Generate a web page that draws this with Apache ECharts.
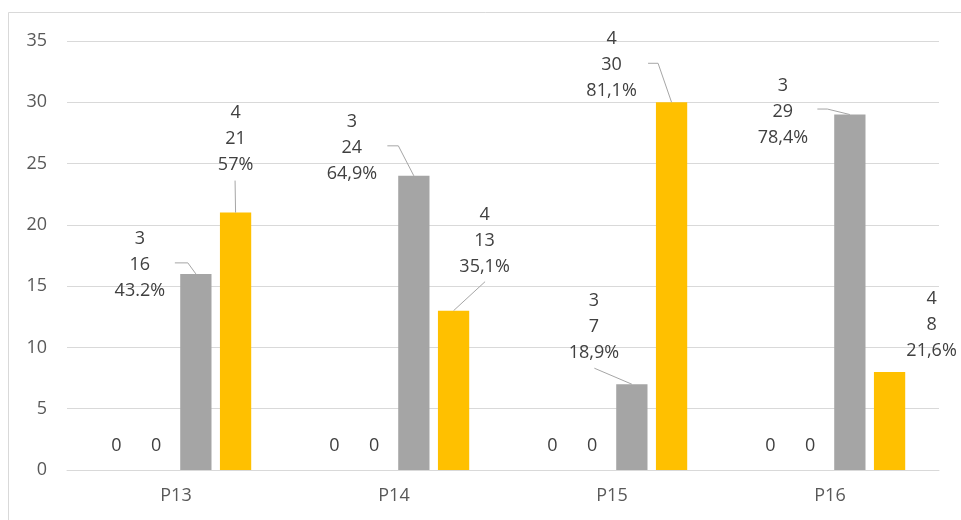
<!DOCTYPE html>
<html><head><meta charset="utf-8">
<script src="https://cdn.jsdelivr.net/npm/echarts@6/dist/echarts.min.js"></script>
<style>html,body{margin:0;padding:0;background:#fff}#c{width:961px;height:520px}</style>
</head><body><div id="c"></div>
<script>
// ---- data ----
const categories = ['P13', 'P14', 'P15', 'P16'];
const seriesNames = ['1', '2', '3', '4'];
const values1 = [0, 0, 0, 0];
const values2 = [0, 0, 0, 0];
const values3 = [16, 24, 7, 29];
const values4 = [21, 13, 30, 8];
const percent3 = ['43.2%', '64,9%', '18,9%', '78,4%'];
const percent4 = ['57%', '35,1%', '81,1%', '21,6%'];
const yMin = 0, yMax = 35, yStep = 5;

// ---- layout (label offsets and leader-line shapes, relative to bar top centre) ----
const labelOffsets = [
  [[0, -24], [0, -24], [0, -24], [0, -24]],
  [[0, -24], [0, -24], [0, -24], [0, -24]],
  [[-56, -9], [-62, -28], [-38, -57], [-67, -3]],
  [[0, -74], [31, -70], [-60, -37], [42, -47]]
];
const leaderShapes = [
  [null, null, null, null],
  [null, null, null, null],
  [[[-21, -11], [-8, -11], [0, 0]], [[-26.5, -30], [-15.5, -30], [0, 0]], [[-37.5, -16], [0, 0]], [[-32.5, -5.5], [-22.5, -5.5], [0, 0]]],
  [[[-0.5, -32], [0, 0]], [[31.5, -29], [0, 0]], [[-23.5, -39], [-13.5, -39], [0, 0]], null]
];
const BAR_GAP = 0.27, CAT_GAP = 0.31;

const FONT = 'Open Sans';
const allValues = [values1, values2, values3, values4];
const percents = [null, null, percent3, percent4];
const colors = ['#5B9BD5', '#ED7D31', '#A5A5A5', '#FFC000'];
const nSeries = allValues.length;

const chart = echarts.init(document.getElementById('c'), null, { renderer: 'canvas' });

const series = allValues.map((vals, s) => ({
  name: seriesNames[s],
  type: 'bar',
  barGap: (BAR_GAP * 100) + '%',
  barCategoryGap: (CAT_GAP * 100) + '%',
  itemStyle: { color: colors[s] },
  data: vals,
  label: {
    show: true,
    position: 'top',
    fontFamily: FONT,
    fontSize: 18,
    lineHeight: 26,
    color: '#404040',
    align: 'center',
    formatter: p => percents[s] ? (p.seriesName + '\n' + p.value + '\n' + percents[s][p.dataIndex]) : String(p.value)
  },
  labelLayout: params => {
    const off = labelOffsets[params.seriesIndex][params.dataIndex];
    const r = params.rect;
    return {
      x: r.x + r.width / 2 + off[0],
      y: r.y + off[1],
      align: 'center',
      verticalAlign: 'middle'
    };
  }
}));

// leader lines: one item per (series, category) that has a leader
const leaderData = [];
allValues.forEach((vals, s) => vals.forEach((v, i) => {
  if (leaderShapes[s][i]) leaderData.push([i, v, s]);
}));

series.push({
  type: 'custom',
  silent: true,
  z: 5,
  data: leaderData,
  renderItem: (params, api) => {
    const i = api.value(0), v = api.value(1), s = api.value(2);
    const pt = api.coord([i, v]);
    const cw = api.size([1, 0])[0];
    const used = cw * (1 - CAT_GAP);
    const bw = used / (nSeries + (nSeries - 1) * BAR_GAP);
    const cx = pt[0] - used / 2 + bw / 2 + s * bw * (1 + BAR_GAP);
    const pts = leaderShapes[s][i].map(p => [cx + p[0], pt[1] + p[1]]);
    return {
      type: 'polyline',
      shape: { points: pts },
      style: { stroke: '#A6A6A6', lineWidth: 1, fill: null }
    };
  }
});

chart.setOption({
  animation: false,
  backgroundColor: '#fff',
  graphic: [{
    type: 'rect',
    shape: { x: 8.5, y: 12.5, width: 1000, height: 600 },
    style: { fill: 'none', stroke: '#D9D9D9', lineWidth: 1 },
    silent: true
  }],
  grid: { left: 67, right: 22, top: 41, bottom: 50, containLabel: false },
  xAxis: {
    type: 'category',
    data: categories,
    axisTick: { show: false },
    axisLine: { lineStyle: { color: '#D9D9D9', width: 1 } },
    axisLabel: { fontFamily: FONT, fontSize: 18, color: '#595959', margin: 17 }
  },
  yAxis: {
    type: 'value',
    min: yMin, max: yMax, interval: yStep,
    axisLine: { show: false },
    axisTick: { show: false },
    splitLine: { lineStyle: { color: '#D9D9D9', width: 1 } },
    axisLabel: { fontFamily: FONT, fontSize: 18, color: '#595959', margin: 20 }
  },
  series: series
});
</script>
</body></html>
